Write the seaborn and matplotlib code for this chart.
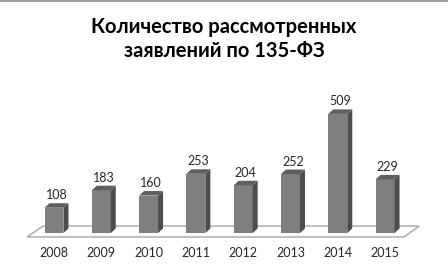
import matplotlib
matplotlib.use("Agg")
import matplotlib.pyplot as plt
import seaborn as sns
import pandas as pd
from matplotlib.patches import Polygon

years = ["2008", "2009", "2010", "2011", "2012", "2013", "2014", "2015"]
values = [108, 183, 160, 253, 204, 252, 509, 229]
title = "Количество рассмотренных\nзаявлений по 135-ФЗ"

sns.set_theme(style="white")
plt.rcParams['font.family'] = ['Lato', 'DejaVu Sans']

W, H = 448, 267
fig = plt.figure(figsize=(W / 100, H / 100), dpi=100)
step = 47.3
pxu = 0.234  # px per unit
x0 = -0.7
x1 = 7.9
left_px = 54 + x0 * step
ax = fig.add_axes([left_px / W, 34 / H, (x1 - x0) * step / W, 600 * pxu / H])

df = pd.DataFrame({"year": years, "value": values})
sns.barplot(data=df, x="year", y="value", ax=ax, color="#7f7f7f",
            width=0.40, saturation=1, edgecolor="none", zorder=3)
ax.set_xlim(x0, x1)
ax.set_ylim(0, 600)

dx = 5 / step
dy = 4.5 / pxu

# floor
floor = Polygon([(-0.57, -17), (7.4, -17), (7.72, 30), (-0.23, 30)],
                closed=True, facecolor="white", edgecolor="#a6a6a6",
                linewidth=1.0, zorder=1, clip_on=False)
ax.add_patch(floor)

for p in ax.patches[:]:
    if p is floor:
        continue
    xl = p.get_x()
    w = p.get_width()
    h = p.get_height()
    xr = xl + w
    side = Polygon([(xr, 0), (xr + dx, dy), (xr + dx, h + dy), (xr, h)],
                   closed=True, facecolor="#4d4d4d", edgecolor="none", zorder=3, clip_on=False)
    top = Polygon([(xl, h), (xr, h), (xr + dx, h + dy), (xl + dx, h + dy)],
                  closed=True, facecolor="#5e5e5e", edgecolor="none", zorder=3, clip_on=False)
    ax.add_patch(side)
    ax.add_patch(top)
    p.set_clip_on(False)

for i, v in enumerate(values):
    ax.text(i + dx / 2, v + dy + 34, str(v), ha="center", va="center",
            fontsize=9, color="#262626", clip_on=False)

ax.set_xlabel("")
ax.set_ylabel("")
ax.set_yticks([])
ax.tick_params(axis="x", length=0, pad=10, labelsize=9, labelcolor="#262626")
for s in ax.spines.values():
    s.set_visible(False)
ax.patch.set_alpha(0)

fig.text(0.5, 1 - 39 / H, title, ha="center", va="center", fontsize=14.5,
         fontweight="bold", color="black", linespacing=1.25)
fig.add_artist(plt.Line2D([0, 1], [1 - 0.8 / H, 1 - 0.8 / H], color="#a0a0a0", linewidth=1.5))

fig.savefig("out.png", dpi=100)
